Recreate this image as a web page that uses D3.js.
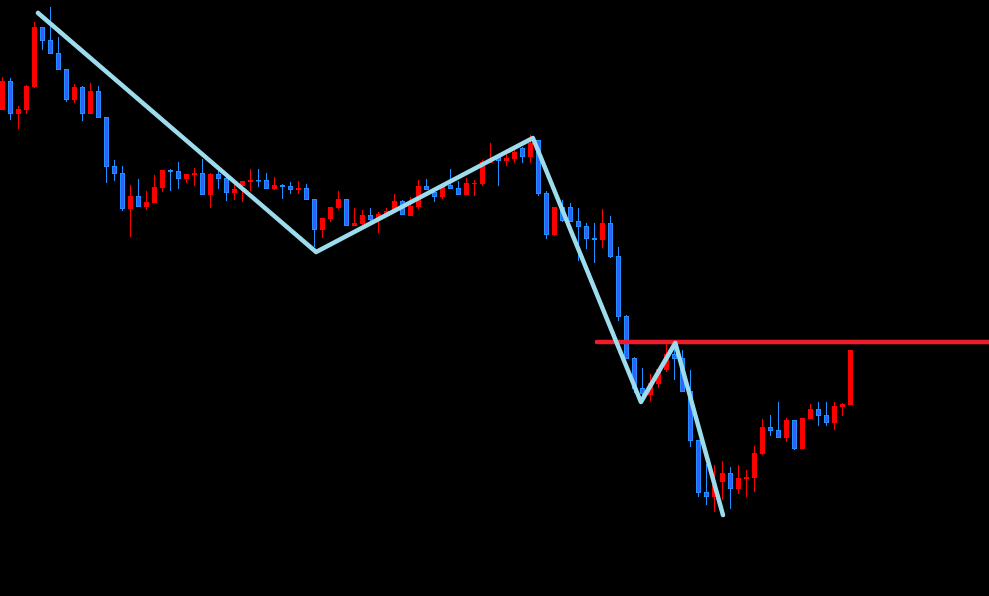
<!DOCTYPE html>
<html>
<head>
<meta charset="utf-8">
<script src="https://cdn.jsdelivr.net/npm/d3@7"></script>
<style>
html,body{margin:0;padding:0;background:#000;overflow:hidden;}
svg{display:block;}
</style>
</head>
<body>
<svg id="chart" width="989" height="596"></svg>
<script>
const opens  = [149.0,151.9,148.6,149.0,151.3,157.3,156.0,154.7,153.1,150.0,151.3,148.6,150.9,148.3,143.4,142.7,139.1,140.4,139.3,139.7,141.2,143.0,142.9,142.1,142.5,142.7,140.5,142.6,142.2,140.7,141.4,141.8,142.0,142.0,141.1,141.5,141.4,141.0,141.2,140.1,137.0,138.1,139.2,140.1,137.4,137.6,138.5,138.1,138.5,138.9,139.9,138.4,139.3,141.4,140.8,140.3,141.5,141.2,140.5,141.6,141.6,143.7,144.3,143.9,144.1,145.2,144.3,146.0,140.7,136.5,139.3,139.3,137.9,137.4,136.2,136.0,137.7,134.4,128.4,124.2,121.2,120.5,121.6,123.0,124.6,124.2,120.9,116.0,110.8,110.3,111.8,112.7,111.1,112.1,112.2,114.6,117.3,117.0,116.2,118.0,115.1,118.1,119.1,118.5,117.7,119.3,119.5];
const highs  = [152.3,152.2,149.4,151.5,157.8,157.3,159.3,156.3,153.1,151.6,151.4,151.7,151.4,148.3,144.0,143.4,141.5,142.1,140.9,142.5,143.0,143.1,143.8,142.6,143.2,144.1,142.7,143.0,142.3,141.8,141.9,143.1,143.1,142.7,142.3,141.6,141.8,141.9,141.6,140.1,138.2,139.3,140.9,140.1,139.2,139.0,139.2,138.8,139.2,140.6,140.0,140.3,142.0,142.1,141.0,141.5,143.1,141.9,142.2,142.0,144.0,145.7,144.3,145.1,145.1,145.3,146.5,146.0,140.9,139.3,140.0,139.7,139.2,137.7,137.7,139.1,138.4,135.3,128.5,124.3,123.2,122.6,123.1,125.6,125.6,125.0,123.0,116.0,113.6,113.5,113.9,113.3,113.5,113.0,115.4,118.1,118.5,119.8,118.2,118.0,118.2,119.6,119.8,119.8,119.8,119.7,125.0];
const lows   = [149.0,148.0,147.1,148.6,151.2,155.0,154.6,153.0,149.8,149.7,147.9,148.6,148.2,141.7,141.9,138.9,136.3,139.3,139.0,139.7,140.8,140.9,141.1,141.7,141.4,140.5,139.2,141.1,139.9,140.0,139.8,140.9,141.3,141.1,141.0,140.1,140.6,140.6,140.0,135.3,136.2,137.8,139.1,137.4,137.4,137.2,137.8,136.7,138.5,138.9,138.5,138.4,139.1,141.0,139.8,140.1,141.1,140.5,140.5,140.4,141.4,143.7,141.4,143.4,143.7,143.7,143.7,140.4,136.1,136.4,137.8,137.8,133.9,135.1,133.7,135.2,134.2,127.9,124.1,120.7,120.2,119.9,121.2,122.8,122.0,120.8,115.3,110.3,109.5,108.8,110.0,109.1,110.6,110.3,110.8,114.5,116.4,116.2,115.8,115.0,115.1,118.1,117.4,117.4,117.0,118.4,119.5];
const closes = [151.9,148.6,149.1,151.4,157.3,155.9,154.6,153.0,150.0,151.3,148.6,150.9,148.2,143.3,142.6,139.1,140.4,139.3,139.8,141.3,143.0,142.8,142.1,142.6,142.7,140.5,142.6,142.1,140.7,141.1,141.9,142.0,141.9,141.1,141.5,141.3,141.0,141.2,140.0,137.0,138.2,139.3,140.1,137.4,137.7,138.5,138.0,138.6,138.9,139.9,138.5,139.4,141.4,141.0,140.3,141.4,141.1,140.5,141.7,141.7,143.8,144.0,143.9,144.2,144.8,144.3,145.7,140.6,136.5,139.3,137.9,137.8,137.3,136.1,136.0,137.7,134.3,128.3,124.1,121.1,120.6,121.7,123.1,124.6,124.1,120.8,115.9,110.7,110.3,111.5,112.7,111.1,112.2,112.3,114.7,117.3,116.9,116.2,118.0,115.1,118.2,119.1,118.4,117.7,119.4,119.6,125.0];

// Zigzag trend line: [candle index, price]
const zigIndex = [4.44, 39.2, 66.3, 79.8, 84.1, 90.06];
const zigPrice = [158.7, 134.8, 146.2, 119.8, 125.7, 108.5];

// Horizontal resistance line
const levelPrice = 125.8;
const levelStartIndex = 74.3;

const W = 989, H = 596;
const svg = d3.select("#chart");
svg.append("rect").attr("width", W).attr("height", H).attr("fill", "#000");

const n = opens.length;
const x = d3.scaleLinear().domain([0, n - 1]).range([2.5, 850.5]);
const y = d3.scaleLinear().domain([100, 160]).range([600, 0]);

const candles = d3.range(n).map(i => ({i, o: opens[i], h: highs[i], l: lows[i], c: closes[i], up: closes[i] >= opens[i]}));

const g = svg.append("g");
// wicks
g.selectAll("line.wick").data(candles).join("line")
  .attr("class", "wick")
  .attr("x1", d => x(d.i)).attr("x2", d => x(d.i))
  .attr("y1", d => y(d.h)).attr("y2", d => y(d.l))
  .attr("stroke", d => d.up ? "#ff0000" : "#1e90ff")
  .attr("stroke-width", 1);

// bodies
g.selectAll("rect.body").data(candles).join("rect")
  .attr("class", "body")
  .attr("x", d => d.up ? x(d.i) - 2.5 : x(d.i) - 2)
  .attr("width", d => d.up ? 5 : 4)
  .attr("y", d => y(Math.max(d.o, d.c)) + (d.up ? 0 : 0.5))
  .attr("height", d => Math.max(d.up ? 1 : 0.5, Math.abs(y(d.o) - y(d.c)) - (d.up ? 0 : 1)))
  .attr("fill", d => d.up ? "#ff0000" : "#3a5cff")
  .attr("stroke", d => d.up ? "none" : "#1e90ff")
  .attr("stroke-width", 1);

// horizontal level
svg.append("line")
  .attr("x1", x(levelStartIndex)).attr("x2", W + 5)
  .attr("y1", y(levelPrice)).attr("y2", y(levelPrice))
  .attr("stroke", "#ee1c2a").attr("stroke-width", 4.5)
  .attr("stroke-linecap", "round");

// zigzag
const zz = zigIndex.map((v, k) => [x(v), y(zigPrice[k])]);
svg.append("path")
  .attr("d", d3.line()(zz))
  .attr("fill", "none")
  .attr("stroke", "#9cdcec")
  .attr("stroke-width", 4.5)
  .attr("stroke-linecap", "round")
  .attr("stroke-linejoin", "round");
</script>
</body>
</html>
